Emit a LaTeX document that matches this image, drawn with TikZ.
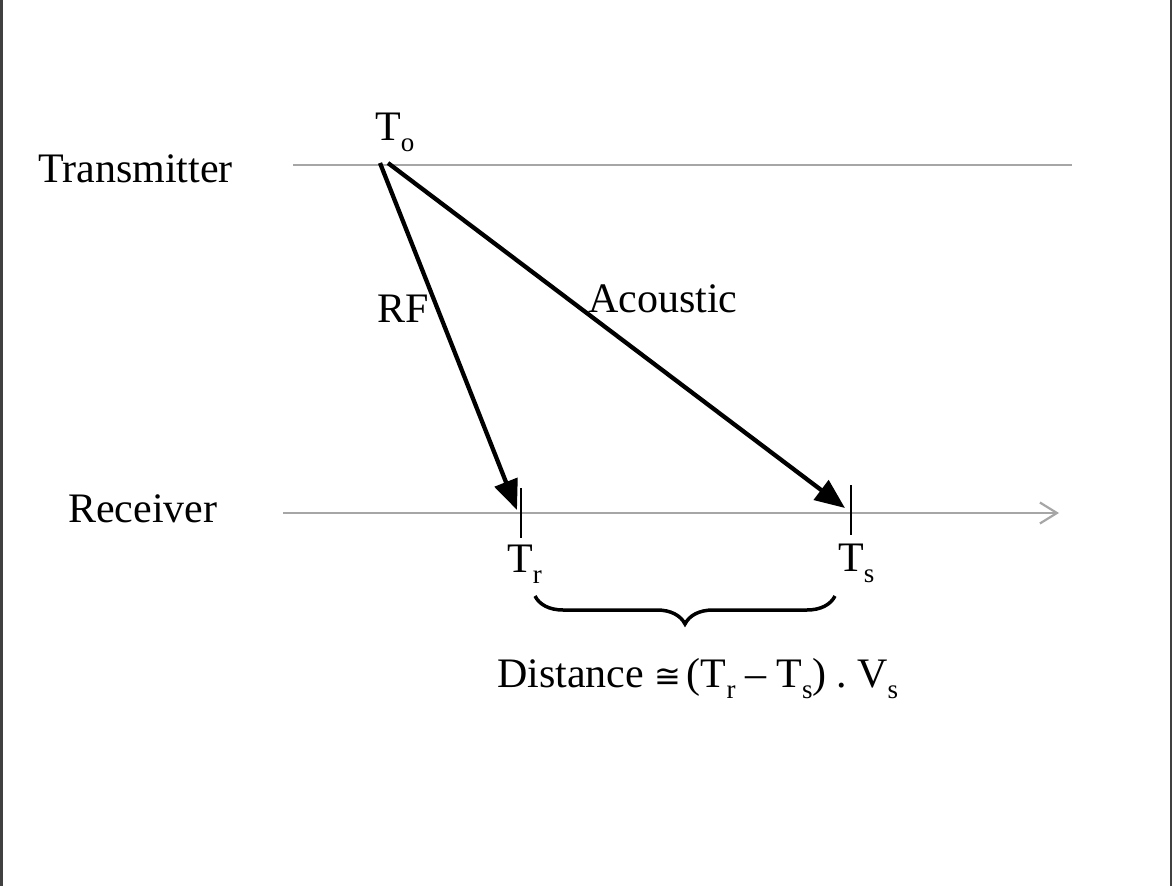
\documentclass[tikz,border=0pt]{standalone}
\usepackage{fontspec}
\setmainfont{Liberation Serif}
\newfontfamily\symfont{DejaVu Sans}
\usetikzlibrary{arrows.meta,decorations.pathreplacing}
\newcommand\TSub[1]{T\raisebox{-0.28em}{\fontsize{27}{27}\selectfont #1}}
\begin{document}
\begin{tikzpicture}[x=1pt,y=-1pt,
  lbl/.style={font=\fontsize{42}{48}\selectfont, inner sep=0pt},
  timeline/.style={draw=black!35, line width=2.2pt},
  signal/.style={draw=black, line width=4.3pt, -{Triangle[length=30pt,width=24pt]}},
  tickmark/.style={draw=black, line width=1.8pt},
  border/.style={draw=black!75, line width=2.2pt}]
\useasboundingbox (0,0) rectangle (1173,886);
\draw[border] (1.5,0) -- (1.5,886);
\draw[border] (1171,0) -- (1171,886);
% labels
\node[lbl, anchor=base west] (tx) at (38,182) {Transmitter};
\node[lbl, anchor=base west] (rx) at (68,522) {Receiver};
% time lines
\coordinate (tl0) at (293,165);
\coordinate (tl1) at (1072,165);
\draw[timeline] (tl0) -- (tl1);
\coordinate (rl0) at (283,513);
\coordinate (rl1) at (1059,513);
\draw[timeline, -{Straight Barb[length=17pt,width=21pt,line width=2.2pt]}] (rl0) -- (rl1);
% T_o
\node[lbl, anchor=base west] (to) at (375,140) {\TSub{o}};
% signals
\coordinate (srf) at (380,163);
\coordinate (sac) at (388,163);
\coordinate (erf) at (517,510);
\coordinate (eac) at (845,508);
\draw[signal] (srf) -- (erf);
\draw[signal] (sac) -- (eac);
\node[lbl, anchor=base west] (rf) at (377,322) {RF};
\node[lbl, anchor=base west] (ac) at (588,312) {Acoustic};
% ticks
\coordinate (ktr0) at (521,488);
\coordinate (ktr1) at (521,538);
\coordinate (kts0) at (851,485);
\coordinate (kts1) at (851,535);
\draw[tickmark] (ktr0) -- (ktr1);
\draw[tickmark] (kts0) -- (kts1);
\node[lbl, anchor=base west] (tr) at (507,572) {\TSub{r}};
\node[lbl, anchor=base west] (ts) at (838,571) {\TSub{s}};
% brace
\coordinate (b0) at (535,596);
\coordinate (b1) at (835,596);
\draw[line width=3.5pt, decorate, decoration={brace, mirror, amplitude=28pt}] (b0) -- (b1);
% formula
\node[lbl, anchor=base west] (dist) at (497,687) {Distance\hspace{10pt}{\symfont\fontsize{32}{40}\selectfont ≅}\hspace{6pt}(\TSub{r}\hspace{10pt}–\hspace{10pt}\TSub{s})\hspace{10pt}.\hspace{10pt}V\raisebox{-0.28em}{\fontsize{27}{27}\selectfont s}};
\end{tikzpicture}
\end{document}
